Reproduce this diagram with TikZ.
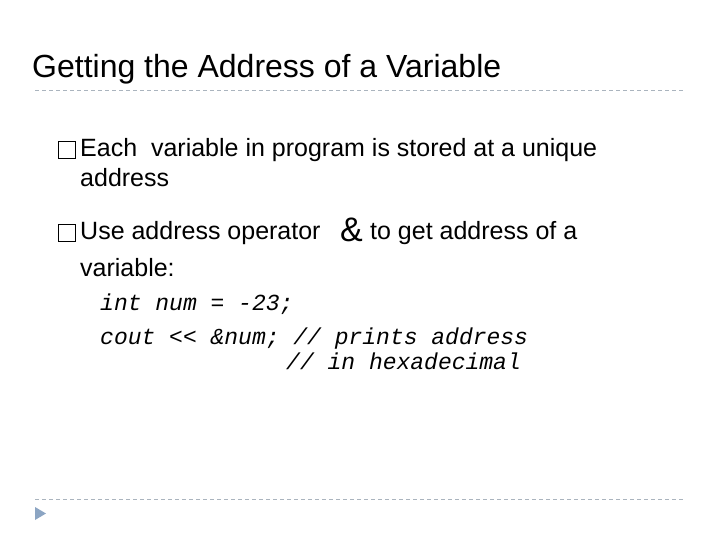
\documentclass[tikz,border=0pt]{standalone}
\usepackage{fontspec}
\setmainfont{Liberation Sans}
\setmonofont{Liberation Mono}
\definecolor{rulegray}{RGB}{170,180,190}
\definecolor{tipblue}{RGB}{140,165,195}

\begin{document}
\begin{tikzpicture}[x=1pt,y=-1pt]
		\tikzstyle{every node}+=[inner sep=0pt,anchor=base west]
		\tikzset{bodytext/.style={font=\fontsize{25}{30}\selectfont},
			codetext/.style={font=\fontsize{23}{28}\selectfont\ttfamily\itshape}}
		\useasboundingbox (0,0) rectangle (720,540);
		\node (title) at (32,78) {\fontsize{32}{38}\selectfont Getting the Address of a Variable};
		\draw [rulegray,dashed,dash pattern=on 4pt off 3pt] (35,90) -- (685,90);
		\draw [rulegray,dashed,dash pattern=on 4pt off 3pt] (35,499) -- (685,499);
		\fill [tipblue] (35,507) -- (46,513.5) -- (35,520) -- cycle;
		% bullets
		\draw [black,line width=0.6pt] (58,141) rectangle (75,158);
		\node [bodytext] (each) at (80,157) {Each \ variable in program is stored at a unique};
		\node [bodytext] (addr) at (80,187) {address};
		\draw [black,line width=0.6pt] (58,224) rectangle (75,241);
		\node [bodytext] (use) at (80,240) {Use address operator};
		\node [font=\fontsize{34}{34}\selectfont\rmfamily] (amp) at (340,241) {\&};
		\node [bodytext] (get) at (370,240) {to get address of a};
		\node [bodytext] (var) at (80,276) {variable:};
		% code
		\node [codetext] (line1) at (100,310) {int num = -23;};
		\node [codetext] (line2) at (100,344) {cout << \&num; // prints address};
		\node [codetext] (line3) at (286,369) {// in hexadecimal};
	\end{tikzpicture}
\end{document}
